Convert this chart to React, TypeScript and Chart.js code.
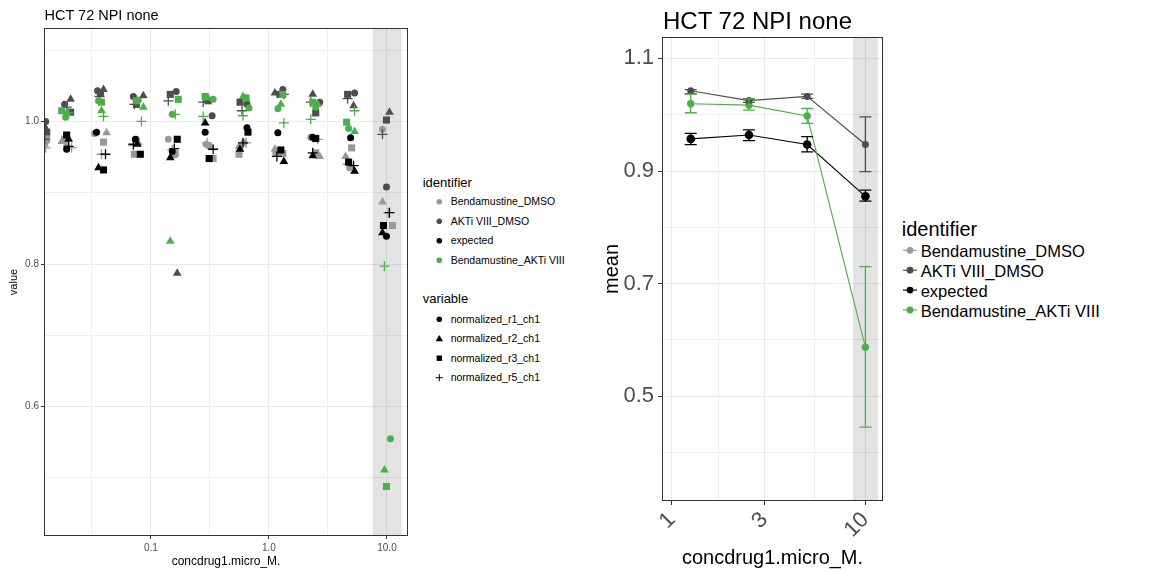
import React, { useEffect, useRef } from 'react';
import { Chart, registerables } from 'chart.js';

Chart.register(...registerables);

const FONT = '"Liberation Sans", Arial, Helvetica, sans-serif';

// ---------------- Shared categories ----------------
const TITLE = 'HCT 72 NPI none';
const X_TITLE = 'concdrug1.micro_M.';
const IDENTIFIERS = ['Bendamustine_DMSO', 'AKTi VIII_DMSO', 'expected', 'Bendamustine_AKTi VIII'];
const ID_COLORS = ['#999999', '#4d4d4d', '#000000', '#4daf4a'];
const VARIABLES = ['normalized_r1_ch1', 'normalized_r2_ch1', 'normalized_r3_ch1', 'normalized_r5_ch1'];
const VAR_SHAPES = ['circle', 'triangle', 'rect', 'cross'];

// ---------------- Left panel: replicate values [concentration (jittered), value] ----------------
const bendaDmso_r1 = [[0.01288, 0.972], [0.01936, 0.965], [0.03337, 0.983], [0.07541, 0.975], [0.1406, 0.975], [0.294, 0.968], [0.6152, 0.970], [1.146, 0.955], [2.262, 0.978], [4.826, 0.935], [9.16, 0.989]];
const bendaDmso_r2 = [[0.01262, 0.968], [0.01758, 0.972], [0.04213, 0.984], [0.0784, 0.970], [0.1548, 0.952], [0.3178, 0.965], [0.5585, 0.965], [1.124, 0.961], [2.694, 0.951], [4.465, 0.951], [9.16, 0.887]];
const bendaDmso_r3 = [[0.01313, 0.975], [0.01862, 0.975], [0.03975, 0.971], [0.07253, 0.954], [0.161, 0.955], [0.3369, 0.948], [0.5585, 0.954], [1.312, 0.955], [2.492, 0.956], [5.017, 0.963], [11.13, 0.854]];
const bendaDmso_r5 = [[0.01288, 0.963], [0.02134, 0.963], [0.03823, 0.954], [0.07116, 0.966], [0.1519, 0.960], [0.2998, 0.970], [0.6397, 0.970], [1.214, 0.958], [2.592, 0.975], [4.642, 0.940], [10.24, 0.872]];

const akti_r1 = [[0.01288, 1.000], [0.01862, 1.024], [0.03538, 1.043], [0.07116, 1.035], [0.1641, 1.042], [0.3304, 1.008], [0.6522, 1.024], [1.312, 1.045], [2.694, 1.027], [5.318, 1.040], [9.9, 0.908]];
const akti_r2 = [[0.01262, 0.993], [0.02093, 1.031], [0.03975, 1.045], [0.08639, 1.036], [0.1674, 0.787], [0.2998, 1.030], [0.6397, 1.032], [1.124, 1.040], [2.351, 1.038], [5.216, 1.022], [10.5, 1.013]];
const akti_r3 = [[0.01313, 0.985], [0.02093, 1.013], [0.0375, 1.040], [0.07541, 1.024], [0.1461, 1.038], [0.3056, 1.029], [0.5694, 1.027], [1.238, 1.038], [2.492, 1.012], [4.642, 1.038], [9.9, 1.002]];
const akti_r5 = [[0.01262, 0.975], [0.01936, 1.020], [0.03677, 1.035], [0.07253, 1.024], [0.1406, 1.029], [0.2774, 1.027], [0.592, 1.015], [1.339, 1.038], [2.262, 1.027], [4.642, 1.032], [9.16, 0.982]];

const expected_r1 = [[0.01936, 0.961], [0.03468, 0.985], [0.07396, 0.975], [0.1519, 0.958], [0.2884, 0.985], [0.6522, 0.991], [1.191, 0.984], [2.351, 0.978], [4.92, 0.977], [9.9, 0.839]];
const expected_r2 = [[0.02013, 0.975], [0.03606, 0.935], [0.07688, 0.968], [0.1461, 0.949], [0.2884, 0.998], [0.5694, 0.961], [1.339, 0.944], [2.351, 0.952], [5.318, 0.930], [9.16, 0.844]];
const expected_r3 = [[0.01936, 0.981], [0.03975, 0.932], [0.08149, 0.954], [0.1674, 0.975], [0.3117, 0.948], [0.6651, 0.985], [1.262, 0.960], [2.492, 0.976], [4.733, 0.943], [9.34, 0.854]];
const expected_r5 = [[0.02013, 0.965], [0.0413, 0.954], [0.07116, 0.968], [0.1579, 0.962], [0.3369, 0.961], [0.6036, 0.970], [1.168, 0.951], [2.351, 0.956], [5.216, 0.938], [10.5, 0.872]];

const bendaAkti_r1 = [[0.01899, 1.006], [0.03606, 1.029], [0.0784, 1.030], [0.1519, 1.010], [0.3369, 1.031], [0.6781, 1.019], [1.191, 1.018], [2.492, 1.020], [4.733, 0.990], [10.7, 0.555]];
const bendaAkti_r2 = [[0.01936, 1.012], [0.03823, 1.015], [0.08639, 1.020], [0.1461, 0.832], [0.3056, 1.033], [0.6036, 1.035], [1.262, 1.024], [2.592, 1.024], [5.318, 0.986], [9.52, 0.511]];
const bendaAkti_r3 = [[0.01758, 1.015], [0.03823, 1.027], [0.07541, 1.029], [0.1707, 1.031], [0.2884, 1.035], [0.6397, 1.033], [1.312, 1.038], [2.351, 1.027], [4.551, 0.999], [9.9, 0.488]];
const bendaAkti_r5 = [[0.02013, 1.012], [0.03975, 1.007], [0.08315, 1.000], [0.161, 1.010], [0.2774, 1.007], [0.6036, 1.008], [1.339, 0.998], [2.262, 1.003], [5.318, 1.015], [9.52, 0.797]];

const LEFT_SERIES = [
  [bendaDmso_r1, bendaDmso_r2, bendaDmso_r3, bendaDmso_r5],
  [akti_r1, akti_r2, akti_r3, akti_r5],
  [expected_r1, expected_r2, expected_r3, expected_r5],
  [bendaAkti_r1, bendaAkti_r2, bendaAkti_r3, bendaAkti_r5],
];

const L_X_MIN = 0.01245;
const L_X_MAX = 15.07;
const L_Y_MIN = 0.4185;
const L_Y_MAX = 1.1311;
const L_X_TICKS = [0.031623, 0.1, 0.31623, 1, 3.1623, 10];
const L_X_LABELS = ['', '0.1', '', '1.0', '', '10.0'];
const L_Y_TICKS = [0.5, 0.6, 0.7, 0.8, 0.9, 1.0, 1.1];
const L_Y_LABELS = ['', '0.6', '', '0.8', '', '1.0', ''];
const L_BAND = [7.55, 13.3];

// ---------------- Right panel: means and error bars ----------------
const R_CONC = [1.25, 2.5, 5, 10];
const aktiMean = [1.0426, 1.025, 1.0325, 0.947];
const aktiLow = [1.0373, 1.0218, 1.0289, 0.899];
const aktiHigh = [1.0444, 1.0283, 1.0367, 0.996];
const bendaAktiMean = [1.0195, 1.017, 0.9976, 0.587];
const bendaAktiLow = [1.0035, 1.008, 0.9845, 0.445];
const bendaAktiHigh = [1.0367, 1.028, 1.011, 0.730];
const expectedMean = [0.957, 0.964, 0.947, 0.855];
const expectedLow = [0.947, 0.954, 0.934, 0.8465];
const expectedHigh = [0.967, 0.973, 0.961, 0.866];

const R_SERIES = [
  { id: 1, mean: aktiMean, low: aktiLow, high: aktiHigh, r: 3.5 },
  { id: 3, mean: bendaAktiMean, low: bendaAktiLow, high: bendaAktiHigh, r: 3.7 },
  { id: 2, mean: expectedMean, low: expectedLow, high: expectedHigh, r: 4.3 },
];

const R_X_MIN = 0.888;
const R_X_MAX = 12.33;
const R_Y_MIN = 0.3139;
const R_Y_MAX = 1.138;
const R_X_TICKS = [1, 1.7321, 3, 5.4772, 10];
const R_X_LABELS = ['1', '', '3', '', '10'];
const R_Y_TICKS = [0.4, 0.5, 0.6, 0.7, 0.8, 0.9, 1.0, 1.1];
const R_Y_LABELS = ['', '0.5', '', '0.7', '', '0.9', '', '1.1'];
const R_BAND = [8.63, 11.62];

// ---------------- helpers ----------------
function bandPlugin(id: string, band: number[]) {
  return {
    id,
    beforeDatasetsDraw(chart: any) {
      const { ctx, chartArea, scales } = chart;
      const x0 = scales.x.getPixelForValue(band[0]);
      const x1 = scales.x.getPixelForValue(band[1]);
      ctx.save();
      ctx.fillStyle = 'rgba(0,0,0,0.11)';
      ctx.fillRect(x0, chartArea.top, x1 - x0, chartArea.bottom - chartArea.top);
      ctx.restore();
    },
  };
}

const framePlugin = {
  id: 'frame',
  afterDraw(chart: any) {
    const { ctx, chartArea } = chart;
    ctx.save();
    ctx.strokeStyle = '#333333';
    ctx.lineWidth = 1;
    ctx.strokeRect(
      Math.round(chartArea.left) + 0.5,
      Math.round(chartArea.top) + 0.5,
      Math.round(chartArea.right - chartArea.left) - 1,
      Math.round(chartArea.bottom - chartArea.top) - 1
    );
    ctx.restore();
  },
};

const SHAPE_RADIUS = [3.5, 5, 5, 5];

function LeftChart() {
  const ref = useRef<HTMLCanvasElement>(null);
  useEffect(() => {
    const datasets: any[] = [];
    const order = [3, 2, 1, 0];
    for (const i of order) {
      for (let v = 0; v < 4; v++) {
        datasets.push({
          label: IDENTIFIERS[i] + ' ' + VARIABLES[v],
          data: LEFT_SERIES[i][v].map(([x, y]) => ({ x, y })),
          pointStyle: VAR_SHAPES[v],
          pointRadius: SHAPE_RADIUS[v],
          pointHoverRadius: SHAPE_RADIUS[v],
          backgroundColor: ID_COLORS[i],
          borderColor: ID_COLORS[i],
          borderWidth: v === 3 ? 1.3 : 0,
          showLine: false,
        });
      }
    }
    const chart = new Chart(ref.current as HTMLCanvasElement, {
      type: 'scatter',
      data: { datasets },
      options: {
        animation: false,
        responsive: false,
        maintainAspectRatio: false,
        layout: { padding: { top: 28, right: 12, left: 0, bottom: 0 } },
        plugins: { legend: { display: false }, tooltip: { enabled: false }, title: { display: false } },
        scales: {
          x: {
            type: 'logarithmic',
            min: L_X_MIN,
            max: L_X_MAX,
            afterBuildTicks: (s: any) => { s.ticks = L_X_TICKS.map((v) => ({ value: v })); },
            afterFit: (s: any) => { s.height = 36; },
            ticks: {
              autoSkip: false, maxRotation: 0, minRotation: 0, padding: 3,
              color: '#4d4d4d', font: { family: FONT, size: 10 },
              callback: (_v: any, i: number) => L_X_LABELS[i],
            },
            grid: {
              color: '#ebebeb',
              lineWidth: (c: any) => (L_X_LABELS[c.index] ? 1 : 0.8),
              tickLength: 3,
              tickColor: (c: any) => (L_X_LABELS[c.index] ? '#333333' : 'rgba(0,0,0,0)'),
              tickWidth: 1,
            },
            border: { display: false },
            title: { display: true, text: X_TITLE, color: '#000000', font: { family: FONT, size: 12 }, padding: { top: 0, bottom: 3 } },
          },
          y: {
            type: 'linear',
            min: L_Y_MIN,
            max: L_Y_MAX,
            afterBuildTicks: (s: any) => { s.ticks = L_Y_TICKS.map((v) => ({ value: v })); },
            afterFit: (s: any) => { s.width = 44; },
            ticks: {
              autoSkip: false, padding: 2, color: '#4d4d4d', font: { family: FONT, size: 10 },
              callback: (_v: any, i: number) => L_Y_LABELS[i],
            },
            grid: {
              color: '#ebebeb',
              lineWidth: (c: any) => (L_Y_LABELS[c.index] ? 1 : 0.8),
              tickLength: 3,
              tickColor: (c: any) => (L_Y_LABELS[c.index] ? '#333333' : 'rgba(0,0,0,0)'),
              tickWidth: 1,
            },
            border: { display: false },
            title: { display: true, text: 'value', color: '#000000', font: { family: FONT, size: 11 }, padding: { top: 7, bottom: 0 } },
          },
        },
      } as any,
      plugins: [bandPlugin('leftBand', L_BAND), framePlugin],
    });
    return () => chart.destroy();
  }, []);
  return <canvas ref={ref} width={420} height={572} style={{ position: 'absolute', left: 0, top: 0 }} />;
}

function RightChart() {
  const ref = useRef<HTMLCanvasElement>(null);
  useEffect(() => {
    const datasets: any[] = R_SERIES.map((s) => ({
      label: IDENTIFIERS[s.id],
      data: R_CONC.map((x, i) => ({ x, y: s.mean[i] })),
      showLine: true,
      borderColor: ID_COLORS[s.id],
      backgroundColor: ID_COLORS[s.id],
      borderWidth: 1.1,
      pointRadius: s.r,
      pointHoverRadius: s.r,
      pointBorderWidth: 0,
      pointStyle: 'circle',
    }));
    const errorBars = {
      id: 'errorBars',
      afterDatasetsDraw(chart: any) {
        const { ctx, scales } = chart;
        ctx.save();
        ctx.lineWidth = 1.3;
        R_SERIES.forEach((s) => {
          ctx.strokeStyle = ID_COLORS[s.id];
          R_CONC.forEach((c, i) => {
            const x = scales.x.getPixelForValue(c);
            const yl = scales.y.getPixelForValue(s.low[i]);
            const yh = scales.y.getPixelForValue(s.high[i]);
            ctx.beginPath();
            ctx.moveTo(x, yl);
            ctx.lineTo(x, yh);
            ctx.moveTo(x - 6, yl);
            ctx.lineTo(x + 6, yl);
            ctx.moveTo(x - 6, yh);
            ctx.lineTo(x + 6, yh);
            ctx.stroke();
          });
        });
        ctx.restore();
      },
    };
    const chart = new Chart(ref.current as HTMLCanvasElement, {
      type: 'scatter',
      data: { datasets },
      options: {
        animation: false,
        responsive: false,
        maintainAspectRatio: false,
        layout: { padding: { top: 37, right: 17, left: 0, bottom: 0 } },
        plugins: { legend: { display: false }, tooltip: { enabled: false }, title: { display: false } },
        scales: {
          x: {
            type: 'logarithmic',
            min: R_X_MIN,
            max: R_X_MAX,
            afterBuildTicks: (s: any) => { s.ticks = R_X_TICKS.map((v) => ({ value: v })); },
            afterFit: (s: any) => { s.height = 71; },
            ticks: {
              autoSkip: false, maxRotation: 45, minRotation: 45, padding: 2,
              color: '#4d4d4d', font: { family: FONT, size: 22 },
              callback: (_v: any, i: number) => R_X_LABELS[i],
            },
            grid: {
              color: '#ebebeb',
              lineWidth: (c: any) => (R_X_LABELS[c.index] ? 1 : 0.8),
              tickLength: 4,
              tickColor: (c: any) => (R_X_LABELS[c.index] ? '#333333' : 'rgba(0,0,0,0)'),
              tickWidth: 1,
            },
            border: { display: false },
            title: { display: true, text: X_TITLE, color: '#000000', font: { family: FONT, size: 20 }, padding: { top: 0, bottom: 2 } },
          },
          y: {
            type: 'linear',
            min: R_Y_MIN,
            max: R_Y_MAX,
            afterBuildTicks: (s: any) => { s.ticks = R_Y_TICKS.map((v) => ({ value: v })); },
            afterFit: (s: any) => { s.width = 82; },
            ticks: {
              autoSkip: false, padding: 4, color: '#4d4d4d', font: { family: FONT, size: 22 },
              callback: (_v: any, i: number) => R_Y_LABELS[i],
            },
            grid: {
              color: '#ebebeb',
              lineWidth: (c: any) => (R_Y_LABELS[c.index] ? 1 : 0.8),
              tickLength: 4,
              tickColor: (c: any) => (R_Y_LABELS[c.index] ? '#333333' : 'rgba(0,0,0,0)'),
              tickWidth: 1,
            },
            border: { display: false },
            title: { display: true, text: 'mean', color: '#000000', font: { family: FONT, size: 20 }, padding: { top: 20, bottom: 0 } },
          },
        },
      } as any,
      plugins: [bandPlugin('rightBand', R_BAND), errorBars, framePlugin],
    });
    return () => chart.destroy();
  }, []);
  return <canvas ref={ref} width={320} height={572} style={{ position: 'absolute', left: 580, top: 0 }} />;
}

function Txt({ x, base, size, color = '#000000', children }: any) {
  return (
    <div
      style={{
        position: 'absolute', left: x, top: base - 0.8465 * size, fontSize: size, lineHeight: size + 'px',
        fontFamily: FONT, color, whiteSpace: 'nowrap',
      }}
    >
      {children}
    </div>
  );
}

function VarSymbol({ shape, cx, cy }: any) {
  if (shape === 'circle') return <circle cx={cx} cy={cy} r={2.8} fill="#000" />;
  if (shape === 'triangle') return <polygon points={`${cx - 3.7},${cy + 2.6} ${cx + 3.7},${cy + 2.6} ${cx},${cy - 3.6}`} fill="#000" />;
  if (shape === 'rect') return <rect x={cx - 2.7} y={cy - 2.7} width={5.4} height={5.4} fill="#000" />;
  return (
    <g stroke="#000" strokeWidth={1}>
      <line x1={cx - 3.6} y1={cy} x2={cx + 3.6} y2={cy} />
      <line x1={cx} y1={cy - 3.6} x2={cx} y2={cy + 3.6} />
    </g>
  );
}

export default function App() {
  const lIdBase = [205, 224.5, 244, 263.5];
  const lVarBase = [322.5, 342, 361.5, 381];
  const rIdBase = [257.3, 277.2, 297.1, 317];
  return (
    <div style={{ position: 'absolute', left: 0, top: 0, width: 1163, height: 572, background: '#ffffff', overflow: 'hidden' }}>
      <LeftChart />
      <RightChart />
      <Txt x={44.5} base={20.7} size={14.5}>{TITLE}</Txt>
      <Txt x={663} base={29.3} size={24}>{TITLE}</Txt>

      <Txt x={422.7} base={187.3} size={13}>identifier</Txt>
      {IDENTIFIERS.map((t, i) => (
        <Txt key={'li' + i} x={450.7} base={lIdBase[i]} size={10.5}>{t}</Txt>
      ))}
      <Txt x={422.7} base={303.3} size={13}>variable</Txt>
      {VARIABLES.map((t, i) => (
        <Txt key={'lv' + i} x={450.7} base={lVarBase[i]} size={10.5}>{t}</Txt>
      ))}

      <Txt x={901.7} base={236} size={20}>identifier</Txt>
      {IDENTIFIERS.map((t, i) => (
        <Txt key={'ri' + i} x={920.7} base={rIdBase[i]} size={16.5}>{t}</Txt>
      ))}

      <svg width={1163} height={572} style={{ position: 'absolute', left: 0, top: 0, pointerEvents: 'none' }}>
        {IDENTIFIERS.map((_t, i) => (
          <circle key={'lis' + i} cx={439.3} cy={lIdBase[i] - 3.2} r={2.8} fill={ID_COLORS[i]} />
        ))}
        {VAR_SHAPES.map((s, i) => (
          <VarSymbol key={'lvs' + i} shape={s} cx={439.3} cy={lVarBase[i] - 3.3} />
        ))}
        {IDENTIFIERS.map((_t, i) => (
          <g key={'ris' + i}>
            <line x1={903} y1={rIdBase[i] - 7} x2={917} y2={rIdBase[i] - 7} stroke={ID_COLORS[i]} strokeWidth={1.1} />
            <circle cx={910} cy={rIdBase[i] - 7} r={3.4} fill={ID_COLORS[i]} />
          </g>
        ))}
      </svg>
    </div>
  );
}
